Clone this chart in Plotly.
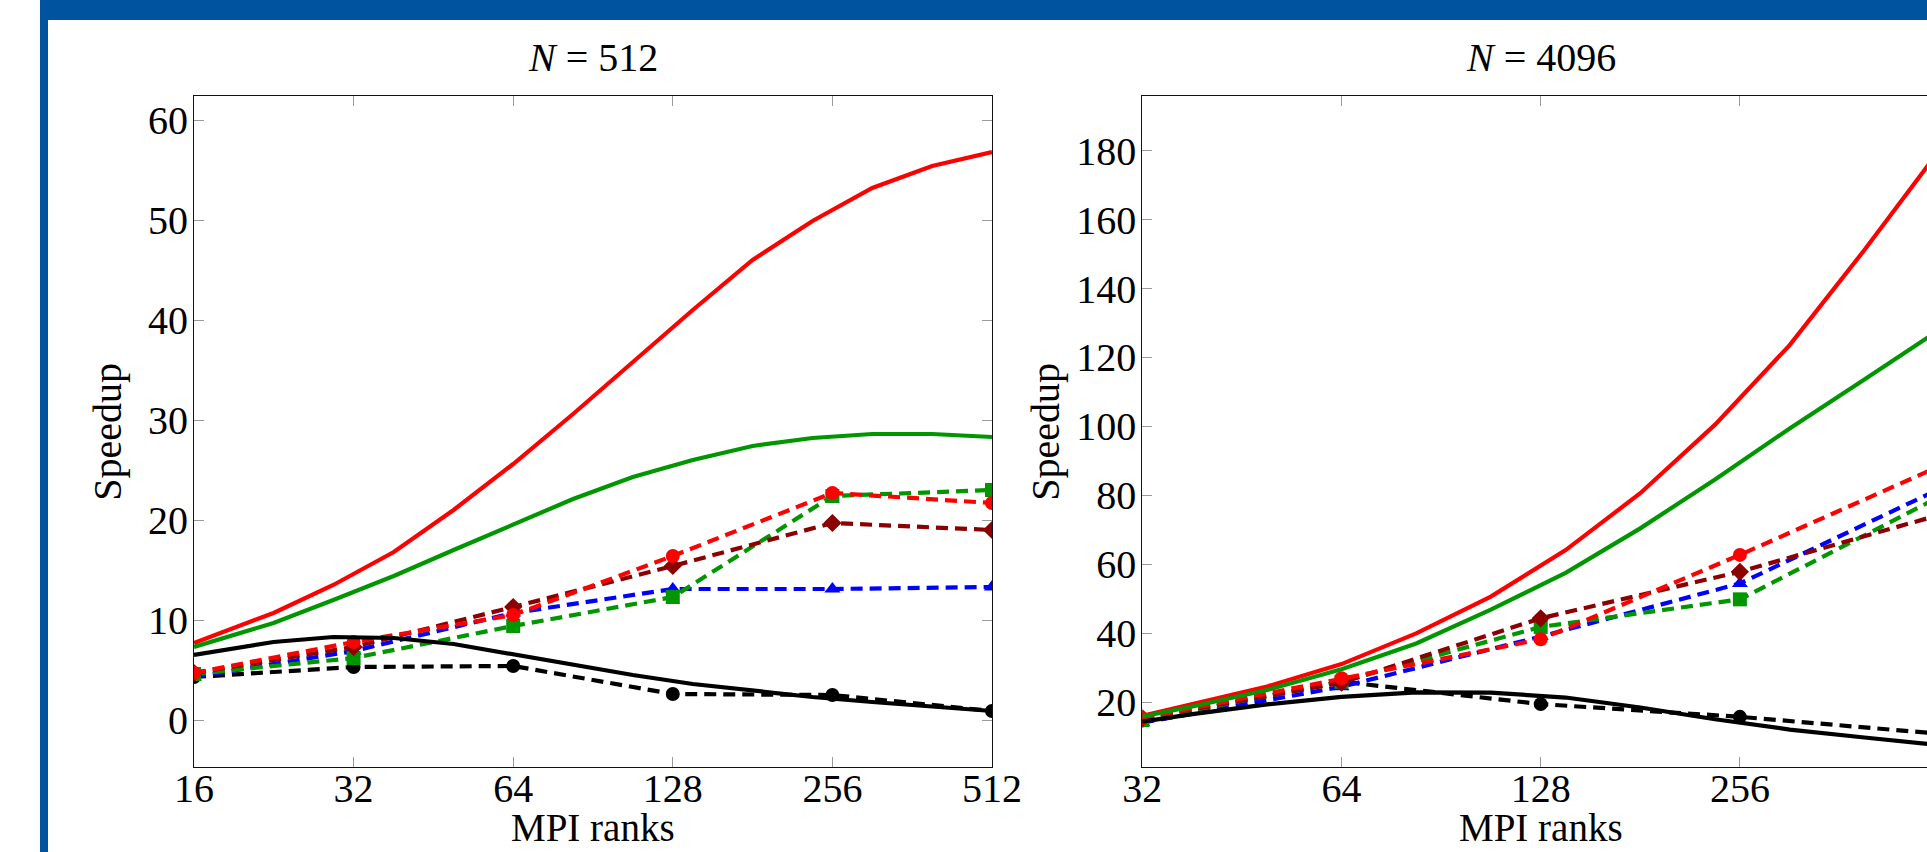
import math
import plotly.graph_objects as go

W, H = 1927, 852

# ---------------- data ----------------
ranks_left = [16, 32, 64, 128, 256, 512]
ranks_right = [32, 64, 128, 256, 512]

model_x_left = [16, 22.6, 29.3, 38.1, 49.4, 64, 83.0, 107.6, 139.6, 181.0, 234.8, 304.4, 394.8, 512]
model_red_left = [7.7, 10.7, 13.5, 16.8, 21.0, 25.6, 30.6, 35.8, 41.0, 46.0, 49.9, 53.2, 55.4, 56.8]
model_green_left = [7.3, 9.7, 12.0, 14.4, 17.0, 19.6, 22.1, 24.3, 26.0, 27.4, 28.2, 28.6, 28.6, 28.3]
model_black_left = [6.5, 7.8, 8.3, 8.2, 7.6, 6.6, 5.5, 4.5, 3.6, 2.9, 2.3, 1.8, 1.3, 0.9]

meas_red_left = [4.7, 7.8, 10.5, 16.4, 22.7, 21.7]
meas_green_left = [4.6, 6.2, 9.4, 12.3, 22.4, 23.0]
meas_blue_left = [4.3, 6.9, 10.7, 13.1, 13.1, 13.3]
meas_darkred_left = [4.7, 7.3, 11.3, 15.4, 19.7, 19.0]
meas_black_left = [4.3, 5.3, 5.4, 2.6, 2.5, 0.9]

model_x_right = [32, 38.1, 49.4, 64, 83.0, 107.6, 139.6, 181.0, 234.8, 304.4, 394.8, 512]
model_red_right = [16.0, 19.5, 24.5, 31.0, 39.9, 50.6, 64.1, 80.6, 100.5, 123.6, 151.2, 180.0]
model_green_right = [15.8, 18.7, 23.5, 29.5, 37.0, 46.8, 57.5, 70.4, 84.6, 99.4, 113.6, 128.0]
model_black_right = [14.3, 16.5, 19.3, 21.5, 22.8, 22.7, 21.3, 18.4, 15.0, 12.0, 9.7, 7.5]

meas_red_right = [15.3, 26.9, 38.2, 62.7, 88.4]
meas_green_right = [14.8, 25.9, 41.8, 49.8, 79.5]
meas_blue_right = [14.0, 24.4, 39.0, 54.4, 81.8]
meas_darkred_right = [15.3, 25.6, 44.3, 57.8, 74.3]
meas_black_right = [14.6, 25.9, 19.4, 15.7, 10.8]

xtick_left = [16, 32, 64, 128, 256, 512]
xtick_right = [32, 64, 128, 256, 512]
ytick_left = [0, 10, 20, 30, 40, 50, 60]
ytick_right = [20, 40, 60, 80, 100, 120, 140, 160, 180]

titles = ["<i>N</i> = 512", "<i>N</i> = 4096"]
xlabel = "MPI ranks"
ylabel = "Speedup"

# ---------------- styles ----------------
RED = "#ff0000"
GREEN = "#009600"
BLUE = "#0000ff"
DARKRED = "#8b0000"
BLACK = "#000000"
FRAME = "#00549F"
FONT = "Liberation Serif"
FS = 40
LW = 4.2
DASH = "12px,7px"
MS = 14


def px(x):
    return x / W


def py(y):
    return (H - y) / H


fig = go.Figure()


def add_panel(xa, ya, mx, mred, mgreen, mblack, rx, mr, mg, mb, md, mk):
    for ys, col, sym in [(mk, BLACK, "circle"), (mb, BLUE, "triangle-up"),
                         (mg, GREEN, "square"), (md, DARKRED, "diamond"),
                         (mr, RED, "circle")]:
        fig.add_trace(go.Scatter(x=rx, y=ys, xaxis=xa, yaxis=ya, mode="lines+markers",
                                 line=dict(color=col, width=LW, dash=DASH),
                                 marker=dict(color=col, symbol=sym, size=MS),
                                 showlegend=False, hoverinfo="skip"))
    for ys, col in [(mred, RED), (mgreen, GREEN), (mblack, BLACK)]:
        fig.add_trace(go.Scatter(x=mx, y=ys, xaxis=xa, yaxis=ya, mode="lines",
                                 line=dict(color=col, width=LW),
                                 showlegend=False, hoverinfo="skip"))


add_panel("x", "y", model_x_left, model_red_left, model_green_left, model_black_left,
          ranks_left, meas_red_left, meas_green_left, meas_blue_left, meas_darkred_left,
          meas_black_left)
add_panel("x2", "y2", model_x_right, model_red_right, model_green_right, model_black_right,
          ranks_right, meas_red_right, meas_green_right, meas_blue_right, meas_darkred_right,
          meas_black_right)

plot_top, plot_bot = 96, 767.3
left_l, left_r = 194, 992
right_l = 1142.3
right_dec = 199.2  # px per doubling
right_xmax = 32 * 2 ** ((W - right_l) / right_dec)

axis_common = dict(showline=True, linecolor="#111111", linewidth=1.2, ticks="inside",
                   ticklen=10, tickcolor="#9a9a9a", tickwidth=1, showgrid=False,
                   zeroline=False, automargin=False,
                   tickfont=dict(family=FONT, size=FS, color="black"))

fig.update_layout(
    width=W, height=H, margin=dict(l=0, r=0, t=0, b=0, pad=0, autoexpand=False),
    paper_bgcolor="white", plot_bgcolor="white",
    xaxis=dict(domain=[px(left_l), px(left_r)], type="log",
               range=[math.log10(16), math.log10(512)], tickvals=xtick_left,
               ticktext=[str(v) for v in xtick_left], mirror="ticks", anchor="y",
               ticklabelstandoff=-14, **axis_common),
    yaxis=dict(domain=[py(plot_bot), py(plot_top)], range=[-4.73, 62.4],
               tickvals=ytick_left, ticktext=[str(v) for v in ytick_left],
               mirror="ticks", anchor="x", ticklabelstandoff=-3, **axis_common),
    xaxis2=dict(domain=[px(right_l), 1.0], type="log",
                range=[math.log10(32), math.log10(right_xmax)], tickvals=xtick_right,
                ticktext=[str(v) for v in xtick_right], mirror="ticks", anchor="y2",
                ticklabelstandoff=-14, **axis_common),
    yaxis2=dict(domain=[py(plot_bot), py(plot_top)], range=[1.05, 195.9],
                tickvals=ytick_right, ticktext=[str(v) for v in ytick_right],
                mirror=False, anchor="x2", ticklabelstandoff=-3, **axis_common),
)

ann = []
centers = [(left_l + left_r) / 2, (right_l + right_l + 4 * right_dec) / 2]
for c, t in zip(centers, titles):
    ann.append(dict(x=px(c), y=py(57), xref="paper", yref="paper", text=t,
                    showarrow=False, xanchor="center", yanchor="middle",
                    font=dict(family=FONT, size=FS, color="black")))
    ann.append(dict(x=px(c), y=py(851), xref="paper", yref="paper", text=xlabel,
                    showarrow=False, xanchor="center", yanchor="bottom",
                    font=dict(family=FONT, size=39, color="black")))
for xc in [108, 1046]:
    ann.append(dict(x=px(xc), y=py((plot_top + plot_bot) / 2), xref="paper", yref="paper",
                    text=ylabel, textangle=-90, showarrow=False, xanchor="center",
                    yanchor="middle", font=dict(family=FONT, size=FS, color="black")))
fig.update_layout(annotations=ann)

fig.update_layout(shapes=[
    dict(type="rect", xref="paper", yref="paper", x0=px(40), x1=1.0, y0=py(20), y1=1.0,
         fillcolor=FRAME, line=dict(width=0), layer="above"),
    dict(type="rect", xref="paper", yref="paper", x0=px(40), x1=px(48), y0=0, y1=1.0,
         fillcolor=FRAME, line=dict(width=0), layer="above"),
])

fig.write_html("out.html",
               post_script="document.body.style.margin='0';document.body.style.overflow='hidden';")
